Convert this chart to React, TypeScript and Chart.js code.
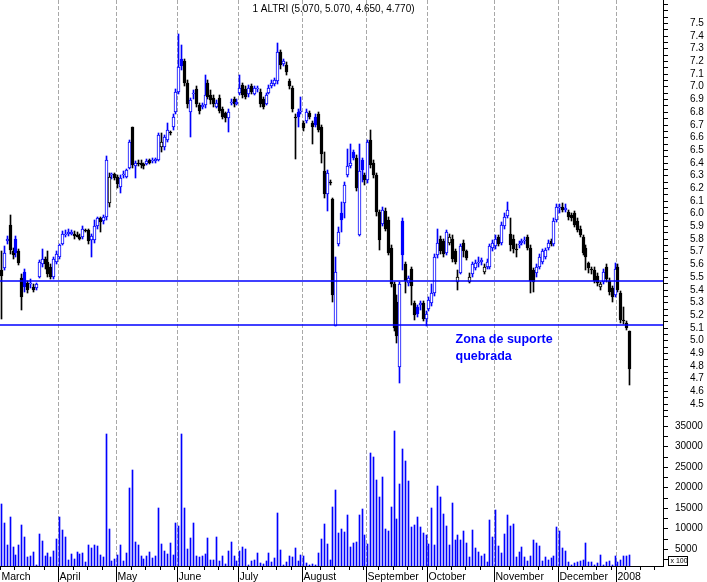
import { useEffect, useRef } from 'react';
import { Chart, registerables, CategoryScale, LinearScale } from 'chart.js';

// Scales that snap pixels to whole device pixels so 1px wicks/volume lines stay crisp
class SnapCategoryScale extends CategoryScale {
  static id = 'snapCategory';
  static defaults = CategoryScale.defaults;
  getPixelForValue(value: any) {
    const p = (CategoryScale.prototype.getPixelForValue as any).call(this, value);
    return Math.round(p - 0.5) + 0.5;
  }
}
class SnapLinearScale extends LinearScale {
  static id = 'snapLinear';
  static defaults = LinearScale.defaults;
  getPixelForValue(value: any) {
    return Math.round((LinearScale.prototype.getPixelForValue as any).call(this, value));
  }
}

Chart.register(...registerables, SnapCategoryScale as any, SnapLinearScale as any);

// ---------- data ----------
const monthNames = ['March', 'April', 'May', 'June', 'July', 'August', 'September', 'October', 'November', 'December', '2008'];
const monthDayCounts = [20, 20, 21, 21, 22, 22, 21, 23, 22, 20, 5];
const blankDays = 11;

const opens = [
  5.55, 5.57, 5.78, 5.91, 5.70, 5.80, 5.70, 5.49, 5.54, 5.45,
  5.44, 5.42, 5.41, 5.50, 5.60, 5.64, 5.62, 5.58, 5.50, 5.62,
  5.66, 5.76, 5.83, 5.84, 5.84, 5.84, 5.83, 5.81, 5.81, 5.87,
  5.87, 5.79, 5.79, 5.90, 5.96, 5.94, 5.97, 6.08, 6.30, 6.31,
  6.29, 6.21, 6.30, 6.29, 6.36, 6.68, 6.37, 6.40, 6.40, 6.39,
  6.39, 6.42, 6.41, 6.41, 6.42, 6.52, 6.52, 6.58, 6.64, 6.68,
  6.80, 6.96, 7.22, 7.20, 7.03, 6.80, 6.94, 6.98, 6.85, 6.84,
  6.85, 7.03, 6.93, 6.91, 6.84, 6.91, 6.82, 6.79, 6.75, 6.87,
  6.90, 6.86, 6.95, 7.01, 6.98, 6.94, 7.00, 6.94, 6.98, 6.96,
  6.90, 6.86, 6.95, 7.00, 7.02, 7.04, 7.27, 7.18, 7.17, 7.04,
  6.99, 6.76, 6.80, 6.80, 6.71, 6.73, 6.79, 6.71, 6.76, 6.78,
  6.68, 6.33, 6.15, 6.25, 6.11, 5.11, 5.76, 6.00, 6.08, 6.30,
  6.37, 6.48, 6.44, 5.83, 6.42, 6.30, 6.26, 6.58, 6.40, 6.30,
  6.01, 5.92, 6.02, 5.95, 5.73, 5.44, 5.30, 4.79, 5.94, 5.60,
  5.45, 5.56, 5.29, 5.26, 5.28, 5.29, 5.17, 5.25, 5.29, 5.37,
  5.67, 5.80, 5.78, 5.69, 5.77, 5.80, 5.70, 5.46, 5.53, 5.77,
  5.70, 5.46, 5.52, 5.57, 5.61, 5.62, 5.54, 5.58, 5.58, 5.73,
  5.74, 5.81, 5.77, 5.90, 5.98, 5.84, 5.80, 5.72, 5.75, 5.77,
  5.78, 5.81, 5.73, 5.55, 5.53, 5.58, 5.62, 5.66, 5.73, 5.78,
  5.76, 5.95, 6.04, 6.05, 6.03, 6.01, 5.99, 6.00, 5.94, 5.88,
  5.81, 5.73, 5.61, 5.56, 5.55, 5.51, 5.42, 5.46, 5.58, 5.47,
  5.41, 5.36, 5.58, 5.37, 5.16, 5.14, 5.07,
];

const highs = [
  5.70, 5.74, 5.82, 5.99, 5.73, 5.82, 5.72, 5.52, 5.56, 5.47,
  5.48, 5.44, 5.45, 5.63, 5.72, 5.66, 5.70, 5.60, 5.66, 5.70,
  5.76, 5.86, 5.87, 5.88, 5.87, 5.86, 5.85, 5.84, 5.90, 5.88,
  5.88, 5.84, 5.95, 5.97, 5.97, 5.99, 6.45, 6.32, 6.32, 6.32,
  6.30, 6.30, 6.33, 6.35, 6.58, 6.68, 6.41, 6.42, 6.42, 6.40,
  6.43, 6.43, 6.44, 6.44, 6.63, 6.63, 6.62, 6.71, 6.65, 6.78,
  6.98, 7.41, 7.33, 7.22, 7.05, 6.91, 6.97, 7.00, 6.87, 6.87,
  7.09, 7.05, 6.97, 6.93, 6.89, 6.93, 6.84, 6.80, 6.82, 6.90,
  6.92, 6.90, 7.09, 7.03, 7.00, 7.01, 7.02, 7.00, 7.00, 6.98,
  6.92, 6.95, 7.01, 7.05, 7.07, 7.34, 7.29, 7.22, 7.19, 7.06,
  7.00, 6.78, 6.82, 6.92, 6.73, 6.82, 6.81, 6.73, 6.78, 6.80,
  6.70, 6.48, 6.34, 6.26, 6.12, 5.66, 5.89, 6.09, 6.25, 6.51,
  6.55, 6.50, 6.46, 6.55, 6.44, 6.32, 6.58, 6.66, 6.42, 6.32,
  6.03, 6.05, 6.04, 5.97, 5.75, 5.46, 5.36, 5.46, 5.96, 5.62,
  5.51, 5.58, 5.31, 5.28, 5.31, 5.31, 5.23, 5.34, 5.44, 5.68,
  5.88, 5.82, 5.80, 5.87, 5.84, 5.83, 5.72, 5.55, 5.76, 5.79,
  5.71, 5.53, 5.62, 5.63, 5.66, 5.65, 5.60, 5.64, 5.76, 5.79,
  5.83, 5.83, 5.93, 6.00, 6.09, 5.96, 5.83, 5.76, 5.78, 5.80,
  5.81, 5.83, 5.75, 5.57, 5.60, 5.68, 5.72, 5.73, 5.79, 5.80,
  5.96, 6.07, 6.07, 6.08, 6.07, 6.03, 6.00, 6.02, 5.96, 5.90,
  5.83, 5.75, 5.62, 5.58, 5.58, 5.53, 5.46, 5.56, 5.60, 5.49,
  5.43, 5.61, 5.60, 5.39, 5.26, 5.15, 5.07,
];

const lows = [
  5.17, 5.55, 5.76, 5.68, 5.64, 5.66, 5.59, 5.24, 5.38, 5.37,
  5.41, 5.38, 5.40, 5.49, 5.58, 5.56, 5.50, 5.48, 5.48, 5.60,
  5.64, 5.75, 5.81, 5.82, 5.83, 5.80, 5.81, 5.79, 5.80, 5.85,
  5.76, 5.66, 5.77, 5.88, 5.85, 5.92, 5.95, 6.05, 6.27, 6.26,
  6.20, 6.16, 6.28, 6.28, 6.35, 6.36, 6.28, 6.37, 6.36, 6.35,
  6.38, 6.39, 6.40, 6.40, 6.41, 6.48, 6.50, 6.56, 6.62, 6.66,
  6.78, 6.94, 7.13, 7.00, 6.83, 6.60, 6.90, 6.84, 6.78, 6.82,
  6.83, 6.90, 6.86, 6.84, 6.83, 6.79, 6.74, 6.72, 6.64, 6.85,
  6.84, 6.85, 6.93, 6.91, 6.90, 6.92, 6.94, 6.93, 6.96, 6.84,
  6.82, 6.85, 6.94, 6.99, 7.00, 7.02, 7.14, 7.16, 7.09, 6.98,
  6.80, 6.43, 6.68, 6.78, 6.65, 6.71, 6.74, 6.55, 6.68, 6.64,
  6.40, 6.12, 6.02, 6.22, 5.30, 5.11, 5.74, 5.85, 5.96, 6.29,
  6.36, 6.42, 6.18, 5.82, 6.25, 6.22, 6.24, 6.36, 6.28, 5.98,
  5.71, 5.90, 5.86, 5.67, 5.42, 5.07, 4.98, 4.66, 5.55, 5.37,
  5.43, 5.28, 5.16, 5.18, 5.24, 5.15, 5.11, 5.23, 5.27, 5.35,
  5.65, 5.68, 5.66, 5.67, 5.75, 5.62, 5.60, 5.40, 5.52, 5.66,
  5.63, 5.45, 5.50, 5.55, 5.58, 5.59, 5.52, 5.56, 5.56, 5.70,
  5.72, 5.74, 5.75, 5.88, 5.96, 5.70, 5.69, 5.66, 5.73, 5.75,
  5.76, 5.71, 5.37, 5.38, 5.50, 5.56, 5.60, 5.64, 5.71, 5.74,
  5.74, 5.93, 6.00, 6.01, 6.01, 5.95, 5.94, 5.89, 5.85, 5.81,
  5.67, 5.55, 5.53, 5.52, 5.45, 5.43, 5.40, 5.44, 5.46, 5.36,
  5.30, 5.34, 5.38, 5.14, 5.13, 5.08, 4.65,
];

const closes = [
  5.51, 5.69, 5.80, 5.71, 5.67, 5.69, 5.61, 5.34, 5.42, 5.40,
  5.45, 5.40, 5.44, 5.62, 5.64, 5.60, 5.52, 5.50, 5.64, 5.68,
  5.75, 5.84, 5.84, 5.85, 5.85, 5.82, 5.81, 5.80, 5.88, 5.86,
  5.78, 5.82, 5.90, 5.96, 5.93, 5.97, 6.42, 6.29, 6.30, 6.28,
  6.23, 6.28, 6.31, 6.34, 6.56, 6.38, 6.40, 6.39, 6.38, 6.37,
  6.41, 6.40, 6.42, 6.43, 6.62, 6.56, 6.60, 6.66, 6.63, 6.76,
  6.96, 7.15, 7.16, 7.03, 6.86, 6.89, 6.95, 6.86, 6.81, 6.85,
  6.93, 6.92, 6.89, 6.86, 6.87, 6.81, 6.76, 6.75, 6.80, 6.88,
  6.86, 6.88, 6.99, 6.93, 6.92, 6.99, 6.96, 6.99, 6.99, 6.86,
  6.84, 6.93, 6.99, 7.03, 7.05, 7.27, 7.17, 7.20, 7.11, 7.00,
  6.82, 6.75, 6.76, 6.81, 6.67, 6.80, 6.76, 6.68, 6.70, 6.66,
  6.47, 6.15, 6.32, 6.24, 5.36, 5.54, 5.85, 5.95, 6.22, 6.37,
  6.40, 6.44, 6.20, 6.33, 6.34, 6.26, 6.56, 6.38, 6.30, 6.01,
  5.79, 6.03, 5.88, 5.69, 5.44, 5.10, 5.03, 5.44, 5.67, 5.47,
  5.49, 5.43, 5.20, 5.21, 5.29, 5.17, 5.21, 5.32, 5.37, 5.66,
  5.77, 5.70, 5.68, 5.85, 5.81, 5.64, 5.62, 5.50, 5.74, 5.70,
  5.65, 5.50, 5.60, 5.61, 5.62, 5.63, 5.58, 5.62, 5.74, 5.77,
  5.80, 5.76, 5.91, 5.97, 6.03, 5.75, 5.72, 5.71, 5.76, 5.78,
  5.79, 5.73, 5.47, 5.46, 5.58, 5.66, 5.70, 5.71, 5.77, 5.76,
  5.94, 6.05, 6.05, 6.03, 6.04, 5.97, 5.96, 5.91, 5.87, 5.83,
  5.69, 5.66, 5.57, 5.55, 5.47, 5.45, 5.44, 5.54, 5.48, 5.38,
  5.34, 5.56, 5.40, 5.16, 5.15, 5.10, 4.77,
];

const volumes = [
  16000, 11300, 6000, 12800, 5500, 3500, 6000, 10900, 7800, 3100,
  3300, 4300, 1100, 8700, 7000, 3300, 4000, 3000, 4500, 7400,
  12800, 9600, 7800, 2300, 3800, 2600, 4300, 3800, 4100, 1800,
  6000, 5200, 6000, 5700, 3500, 3000, 33000, 9900, 2100, 2600,
  3500, 6000, 2100, 4000, 19900, 24300, 6700, 6000, 3300, 2600,
  3300, 4300, 2800, 3300, 15000, 6200, 4500, 3800, 6500, 3500,
  11300, 10600, 33000, 15000, 5000, 7700, 11300, 3300, 3000, 3300,
  3800, 7700, 2300, 2300, 7900, 2100, 3300, 1300, 4500, 6700,
  3300, 2100, 4500, 5500, 5000, 1100, 2100, 2300, 4000, 1600,
  1300, 2100, 4000, 1800, 2800, 13800, 4800, 1100, 1800, 3300,
  3000, 5200, 2100, 3500, 3300, 1600, 1100, 1300, 1100, 4000,
  7400, 11100, 6200, 2300, 15200, 19400, 8900, 9900, 9100, 13300,
  5500, 6500, 6700, 13300, 14800, 8400, 6100, 28500, 27500, 21700,
  17700, 22600, 9900, 9400, 15300, 33800, 12400, 20900, 29400, 26500,
  21600, 10400, 10900, 12800, 10400, 8900, 8400, 6200, 15000, 6000,
  20400, 17700, 13500, 10600, 6000, 16200, 7200, 8400, 7200, 9400,
  6500, 3000, 9600, 5200, 4300, 3300, 3800, 1800, 12100, 7900,
  14500, 5700, 4000, 8700, 13300, 10600, 11100, 3000, 4300, 5500,
  3000, 2100, 3300, 7200, 6500, 5700, 2100, 3000, 2300, 2800,
  3300, 10400, 9400, 5200, 4500, 1800, 1100, 1600, 1800, 2100,
  2300, 6500, 1800, 1800, 1100, 1600, 3500, 1100, 1800, 2100,
  1100, 3300, 1800, 2300, 3300, 3300, 3500,
];

const supportLevels = [5.47, 5.12];
const titleText = '1 ALTRI (5.070, 5.070, 4.650, 4.770)';
const noteLines = ['Zona de suporte', 'quebrada'];
const notePrices = [5.0, 4.87];
const noteIndex = 156;
const volumeUnitText = 'x 100';

// ---------- derived tables ----------
const BLUE = '#0000ff';
const BLACK = '#000000';
const FONT = "'Liberation Sans', Arial, sans-serif";

const labels: string[] = [];
const monthLabelAt: Record<number, string> = {};
const monthStarts: number[] = [];
monthNames.forEach((name, mi) => {
  for (let d = 0; d < monthDayCounts[mi]; d++) {
    if (d === 0) {
      monthLabelAt[labels.length] = name;
      if (labels.length > 0) monthStarts.push(labels.length);
    }
    labels.push(`${name} ${d + 1}`);
  }
});
for (let k = 0; k < blankDays; k++) labels.push(`+${k + 1}`);
const monthStartSet = new Set(monthStarts);

const candleColor = closes.map((c, i) => (c >= (i > 0 ? closes[i - 1] : opens[i]) ? BLUE : BLACK));
const bodyFill = closes.map((c, i) => (c >= opens[i] ? '#ffffff' : candleColor[i]));
const bodies = opens.map((o, i) => [Math.min(o, closes[i]), Math.max(o, closes[i])]);
const wicks = highs.map((h, i) => [lows[i], h]);

const priceTicks: number[] = [];
for (let v = 445; v <= 765; v += 5) priceTicks.push(v / 100);
const volumeTicks: number[] = [];
for (let v = 2500; v <= 37500; v += 2500) volumeTicks.push(v);

const overlayPlugin = {
  id: 'overlay',
  afterDatasetsDraw(chart: any) {
    const { ctx, chartArea, scales } = chart;
    ctx.save();
    ctx.strokeStyle = BLUE;
    ctx.lineWidth = 1.5;
    supportLevels.forEach((level) => {
      const py = scales.y.getPixelForValue(level);
      ctx.beginPath();
      ctx.moveTo(chartArea.left, py);
      ctx.lineTo(chartArea.right, py);
      ctx.stroke();
    });
    ctx.restore();
  },
  afterDraw(chart: any) {
    const { ctx, chartArea, scales } = chart;
    const xs = scales.x;
    ctx.save();
    ctx.strokeStyle = '#000';
    ctx.lineWidth = 1;
    monthStarts.forEach((i) => {
      const px = Math.round((xs.getPixelForValue(i - 1) + xs.getPixelForValue(i)) / 2 - 0.5) + 0.5;
      ctx.beginPath();
      ctx.moveTo(px, chartArea.bottom);
      ctx.lineTo(px, chart.height);
      ctx.stroke();
    });
    ctx.fillStyle = '#000';
    ctx.font = `10px ${FONT}`;
    ctx.textAlign = 'center';
    ctx.textBaseline = 'middle';
    ctx.fillText(titleText, chartArea.left + (chartArea.right - chartArea.left) * 0.503, 9);
    ctx.fillStyle = BLUE;
    ctx.font = `bold 12.5px ${FONT}`;
    ctx.textAlign = 'left';
    noteLines.forEach((line, k) => {
      ctx.fillText(line, xs.getPixelForValue(noteIndex), scales.y.getPixelForValue(notePrices[k]));
    });
    ctx.strokeStyle = '#000';
    ctx.fillStyle = '#000';
    ctx.font = `7px ${FONT}`;
    const bx = chartArea.right + 5.5;
    const by = chartArea.bottom - 9.5;
    ctx.strokeRect(bx, by, 19, 9);
    ctx.textBaseline = 'middle';
    ctx.fillText(volumeUnitText, bx + 2, by + 5);
    ctx.restore();
  },
};

const fixVertical = (s: any) => {
  s.width = 44;
  s.paddingTop = 0;
  s.paddingBottom = 0;
};

export default function App() {
  const ref = useRef<HTMLCanvasElement>(null);
  useEffect(() => {
    document.body.style.margin = '0';
    const chart = new Chart(ref.current as HTMLCanvasElement, {
      type: 'bar',
      data: {
        labels,
        datasets: [
          {
            label: 'body',
            data: bodies as any,
            backgroundColor: bodyFill,
            borderColor: candleColor,
            borderWidth: 1,
            borderSkipped: false,
            barThickness: 3,
            minBarLength: 1,
            stack: 'all',
            yAxisID: 'y',
            order: 0,
          },
          {
            label: 'wick',
            data: wicks as any,
            backgroundColor: candleColor,
            borderWidth: 0,
            barThickness: 1,
            stack: 'all',
            yAxisID: 'y',
            order: 1,
          },
          {
            label: 'volume',
            data: volumes,
            backgroundColor: BLUE,
            borderWidth: 0,
            barThickness: 1,
            stack: 'all',
            yAxisID: 'y2',
            order: 2,
          },
        ],
      },
      options: {
        animation: false,
        responsive: false,
        devicePixelRatio: 1,
        layout: { padding: 0 },
        plugins: { legend: { display: false }, tooltip: { enabled: false }, title: { display: false } },
        scales: {
          x: {
            type: 'snapCategory',
            offset: true,
            grid: {
              offset: true,
              drawOnChartArea: true,
              drawTicks: true,
              tickLength: 4,
              lineWidth: 1,
              color: (c: any) => (monthStartSet.has(c.index) ? '#a8a8a8' : 'transparent'),
              tickColor: (c: any) => (c.index !== undefined && (c.index % 5 === 0 || monthStartSet.has(c.index)) ? '#000' : 'transparent'),
            },
            border: { display: true, color: '#000', width: 1, dash: [4, 2] },
            ticks: {
              autoSkip: false,
              maxRotation: 0,
              minRotation: 0,
              align: 'start',
              padding: 1,
              color: '#000',
              font: { family: FONT, size: 10.5 },
              callback: (_v: any, i: number) => monthLabelAt[i] ?? '',
            },
            afterFit: (s: any) => {
              s.height = 16;
              s.paddingLeft = 0;
              s.paddingRight = 0;
            },
          },
          y: {
            type: 'snapLinear',
            position: 'right',
            stack: 'panes',
            stackWeight: 412,
            stacked: false,
            min: 4.435,
            max: 7.681,
            grid: { drawOnChartArea: false, drawTicks: true, tickLength: 5, color: '#000', tickColor: '#000' },
            border: { display: true, color: '#000', width: 1 },
            ticks: {
              autoSkip: false,
              padding: 22,
              color: '#000',
              font: { family: FONT, size: 10 },
              callback: (v: any) => {
                const n = Math.round(Number(v) * 100);
                return n % 10 === 0 && n >= 450 && n <= 750 ? (n / 100).toFixed(1) : '';
              },
            },
            afterBuildTicks: (s: any) => { s.ticks = priceTicks.map((value) => ({ value })); },
            afterFit: fixVertical,
          },
          y2: {
            type: 'snapLinear',
            position: 'right',
            stack: 'panes',
            stackWeight: 154,
            stacked: false,
            min: 850,
            max: 38400,
            grid: { drawOnChartArea: false, drawTicks: true, tickLength: 5, color: '#000', tickColor: '#000' },
            border: { display: true, color: '#000', width: 1 },
            ticks: {
              autoSkip: false,
              padding: 7,
              color: '#000',
              font: { family: FONT, size: 10 },
              callback: (v: any) => {
                const n = Number(v);
                return n % 5000 === 0 && n <= 35000 ? String(n) : '';
              },
            },
            afterBuildTicks: (s: any) => { s.ticks = volumeTicks.map((value) => ({ value })); },
            afterFit: fixVertical,
          },
        },
      } as any,
      plugins: [overlayPlugin],
    });
    return () => chart.destroy();
  }, []);
  return (
    <div style={{ width: 707, height: 582, background: '#fff' }}>
      <canvas ref={ref} width={707} height={582} style={{ display: 'block', width: 707, height: 582 }} />
    </div>
  );
}
